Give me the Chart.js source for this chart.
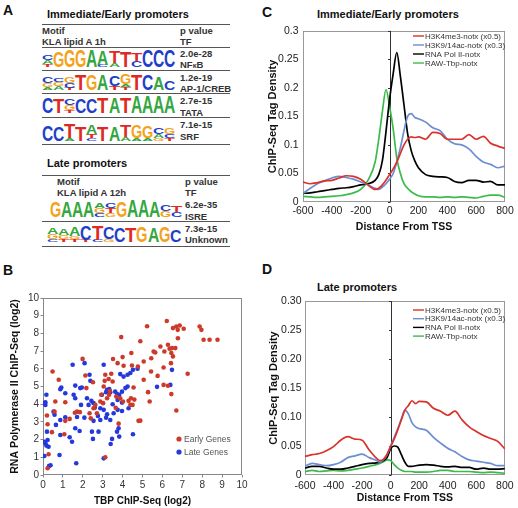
<!DOCTYPE html>
<html><head><meta charset="utf-8">
<script src="https://cdn.jsdelivr.net/npm/chart.js@4.4.1/dist/chart.umd.min.js"></script>
<style>
html,body{margin:0;padding:0;background:#fff;}
body{width:518px;height:508px;position:relative;overflow:hidden;font-family:"Liberation Sans",Arial,sans-serif;color:#222;}
.t{position:absolute;white-space:nowrap;line-height:1;}
.pl{font-weight:bold;font-size:14px;color:#111;}
.pt{font-weight:bold;font-size:11px;color:#111;}
.tb{font-weight:bold;font-size:9.5px;color:#333;}
.hl{position:absolute;height:1px;background:#555;}
canvas{position:absolute;}
.lt{position:absolute;left:0;font-weight:bold;font-size:20px;line-height:20px;transform-origin:0 0;}
</style></head>
<body>
<div class="t pl" style="left:3px;top:3px">A</div>
<div class="t pl" style="left:3px;top:263px">B</div>
<div class="t pl" style="left:262px;top:5px">C</div>
<div class="t pl" style="left:262px;top:262px">D</div>

<div class="t pt" style="left:47px;top:8.5px">Immediate/Early promoters</div>
<div class="hl" style="left:42px;top:24px;width:188px"></div>
<div class="t tb" style="left:42px;top:26px">Motif</div>
<div class="t tb" style="left:42px;top:37px">KLA lipid A 1h</div>
<div class="t tb" style="left:180px;top:26px">p value</div>
<div class="t tb" style="left:180px;top:37px">TF</div>
<div class="hl" style="left:42px;top:47px;width:188px"></div>
<div class="t tb" style="left:180px;top:49px">2.0e-28</div>
<div class="t tb" style="left:180px;top:60px">NF<span style="font-size:7px">κ</span>B</div>
<div class="hl" style="left:42px;top:70px;width:188px"></div>
<div class="t tb" style="left:180px;top:73px">1.2e-19</div>
<div class="t tb" style="left:180px;top:84px">AP-1/CREB</div>
<div class="hl" style="left:42px;top:93px;width:188px"></div>
<div class="t tb" style="left:180px;top:96px">2.7e-15</div>
<div class="t tb" style="left:180px;top:108px">TATA</div>
<div class="hl" style="left:42px;top:117px;width:188px"></div>
<div class="t tb" style="left:180px;top:120px">7.1e-15</div>
<div class="t tb" style="left:180px;top:132px">SRF</div>
<div class="hl" style="left:42px;top:144px;width:188px"></div>

<div class="t pt" style="left:47px;top:157.5px">Late promoters</div>
<div class="hl" style="left:42px;top:175px;width:188px"></div>
<div class="t tb" style="left:57px;top:177px">Motif</div>
<div class="t tb" style="left:57px;top:188px">KLA lipid A 12h</div>
<div class="t tb" style="left:185px;top:177px">p value</div>
<div class="t tb" style="left:185px;top:188px">TF</div>
<div class="t tb" style="left:185px;top:200px">6.2e-35</div>
<div class="t tb" style="left:185px;top:212px">ISRE</div>
<div class="hl" style="left:42px;top:221px;width:188px"></div>
<div class="t tb" style="left:185px;top:224px">7.3e-15</div>
<div class="t tb" style="left:185px;top:235px">Unknown</div>
<div class="hl" style="left:42px;top:246px;width:188px"></div>

<div class="t pt" style="left:317px;top:8.5px">Immediate/Early promoters</div>
<div class="t pt" style="left:317px;top:281.5px">Late promoters</div>

<canvas id="cB" width="250" height="218" style="left:0px;top:290px;width:250px;height:218px"></canvas>
<canvas id="cC" width="258" height="220" style="left:260px;top:20px;width:258px;height:220px"></canvas>
<canvas id="cD" width="258" height="218" style="left:260px;top:290px;width:258px;height:218px"></canvas>

<script>
// ---------- Panel A: motif logos (letter + height per stacked letter) ----------
const motifNFkB    = ["C5A4T3","G16","G17","G17","A17","A14C2","T12A4","T16","T8C6","C17","C17","C17"];
const motifAP1     = ["C6G4A3","C4G4A4","G7C5T2","T16","G16","A16","C11T4","G10A3T3","T16","C16","A13","C9"];
const motifTATA    = ["C16","T14","C7G5T3","C15","C15","T16","A16","T16","A17","A17","A17","A17"];
const motifSRF     = ["C16","C15","T14A3","T15","A9T4C3","T15","A15","T12A4","G13A3","G12A3","C6A4G3","G6C4T3"];
const motifISRE    = ["G16","A16","A16","A16","A5G5C4","C5T5G4","G16","A17","A17","A16","C6G6","T7C5"];
const motifUnknown = ["A7G5C3","A7G4T3","A9G3T3","C14T2","T15C2","C12G3","C14","T15","G16","A15","G16","C12"];

// ---------- Panel B: scatter (log2) ----------
const earlyTbp = [5.23,6.22,6.53,6.7,6.87,7.07,6.77,7.87,7.96,8.07,8.37,8.77,6.78,4.89,3.93,5.9,6.28,6.36,6.48,6.65,5.56,5.64,6.1,6.45,6.53,5.44,5.06,6.43,6.06,5.43,7.27,5.76,5.06,6.06,6.28,6.45,5.28,5.36,6.7,4.89,3.52,4.0,4.44,3.75,4.05,4.47,4.77,1.99,0.48,2.13,0.79,2.51,3.13,3.43,3.3,3.05,2.18,3.1,3.35,3.32,3.22,3.02,2.88,3.68,3.88,4.02,4.3,4.39,4.5,4.42,4.59,4.55,3.5,2.93,2.63,2.54,2.71,2.34,1.71,1.6,1.34,1.12,0.58,0.62,1.12,0.2,0.23,0.45,0.28,4.8,3.13,1.07,0.23,1.85,2.4,3.8,3.65];
const earlyPol = [8.4,8.7,8.3,8.39,8.45,8.26,8.2,8.39,8.2,7.64,7.64,7.64,7.73,7.56,7.79,7.26,7.36,7.13,7.17,7.17,6.98,6.92,6.98,6.89,6.7,6.6,6.41,6.32,6.07,5.85,5.72,5.6,5.38,5.09,5.04,4.57,4.68,4.15,3.64,3.07,6.55,6.66,6.89,6.32,6.17,6.19,6.13,6.56,5.85,5.62,5.38,5.24,5.66,5.72,5.42,5.0,4.91,5.32,4.75,4.53,4.34,4.06,4.15,4.43,4.34,4.15,4.19,3.96,3.96,4.34,4.26,4.94,5.28,4.53,3.96,3.77,3.49,3.49,3.58,3.52,3.17,3.06,3.58,4.15,4.11,3.36,2.87,2.42,1.17,3.06,1.0,2.3,0.38,3.55,3.2,2.9,3.8];
const lateTbp  = [1.49,3.05,2.34,2.38,1.62,1.87,1.95,0.87,1.12,0.17,0.12,1.54,1.62,2.29,2.54,2.43,2.21,1.91,2.96,3.17,3.22,3.33,3.38,2.88,3.05,3.22,2.76,2.54,2.08,1.71,3.63,3.72,3.83,3.97,3.88,4.05,4.25,4.39,4.52,4.75,4.25,4.14,3.97,3.75,4.3,3.97,3.75,3.55,3.38,2.88,3.17,3.8,3.72,3.83,3.47,3.4,4.52,2.79,2.46,2.51,3.05,1.67,1.62,1.84,1.34,1.46,0.87,0.83,0.2,0.23,0.12,0.17,0.28,0.07,0.07,0.3,0.38,0.12,0.07,0.58,0.53,0.87,1.12,0.65,6.48,5.73,6.4,2.09,3.5,2.6,0.92];
const latePol  = [6.23,6.23,5.66,5.32,5.05,4.91,4.94,4.85,4.62,4.53,4.11,4.53,4.34,3.96,4.06,4.19,4.34,3.96,4.53,4.68,4.81,4.85,4.68,3.77,3.68,3.43,3.34,3.06,3.24,3.28,4.71,4.58,4.53,4.71,5.7,5.56,5.66,5.76,5.94,6.0,5.0,4.91,4.09,4.24,3.77,3.62,3.68,3.49,3.11,3.11,3.24,2.64,2.45,2.17,2.04,1.75,2.3,2.45,2.45,2.04,0.94,0.66,2.64,2.49,2.13,1.88,2.26,1.13,2.45,1.98,1.79,1.66,1.6,1.88,1.07,0.5,0.55,3.96,4.06,3.4,3.58,3.11,3.26,2.83,5.94,4.98,5.09,6.32,4.0,3.8,4.94];
const scatterTicks = ["0","1","2","3","4","5","6","7","8","9","10"];

// ---------- Panels C/D: tag density vs distance from TSS ----------
const dist = [-600,-550,-500,-450,-400,-350,-300,-250,-200,-150,-100,-75,-50,-25,0,25,50,75,100,125,150,175,200,250,300,350,400,450,500,550,600,650,700,750,800];
const earlyH3K4me3 = [0.035,0.032,0.034,0.037,0.038,0.042,0.046,0.045,0.04,0.03,0.022,0.024,0.03,0.038,0.048,0.058,0.07,0.085,0.1,0.11,0.114,0.113,0.114,0.11,0.122,0.12,0.11,0.11,0.11,0.118,0.11,0.115,0.103,0.098,0.094];
const earlyH3K9ac  = [0.015,0.024,0.032,0.037,0.042,0.045,0.043,0.04,0.035,0.03,0.024,0.022,0.026,0.032,0.04,0.05,0.07,0.095,0.125,0.15,0.155,0.148,0.146,0.14,0.13,0.125,0.11,0.102,0.1,0.093,0.08,0.07,0.066,0.06,0.063];
const earlyPolII   = [0.015,0.016,0.018,0.02,0.022,0.024,0.025,0.027,0.03,0.032,0.038,0.048,0.072,0.123,0.18,0.225,0.262,0.22,0.17,0.12,0.09,0.072,0.06,0.048,0.045,0.044,0.043,0.036,0.034,0.038,0.038,0.035,0.036,0.03,0.03];
const earlyTbpD    = [0.01,0.009,0.008,0.009,0.01,0.011,0.013,0.016,0.022,0.038,0.07,0.11,0.158,0.197,0.168,0.128,0.077,0.05,0.032,0.024,0.018,0.014,0.011,0.009,0.009,0.008,0.009,0.008,0.009,0.008,0.007,0.01,0.012,0.012,0.008];
const lateH3K4me3  = [0.032,0.035,0.037,0.042,0.049,0.06,0.066,0.062,0.06,0.043,0.029,0.025,0.027,0.036,0.049,0.062,0.078,0.095,0.112,0.12,0.128,0.123,0.127,0.126,0.115,0.11,0.103,0.11,0.095,0.083,0.075,0.068,0.063,0.058,0.045];
const lateH3K9ac   = [0.015,0.02,0.018,0.016,0.018,0.022,0.03,0.033,0.036,0.03,0.025,0.022,0.027,0.035,0.05,0.065,0.08,0.097,0.112,0.105,0.09,0.083,0.08,0.077,0.065,0.055,0.046,0.04,0.032,0.026,0.024,0.022,0.02,0.016,0.016];
const latePolII    = [0.012,0.015,0.015,0.012,0.01,0.01,0.012,0.015,0.018,0.02,0.021,0.022,0.025,0.03,0.045,0.05,0.048,0.035,0.022,0.015,0.015,0.016,0.017,0.018,0.017,0.015,0.014,0.015,0.013,0.013,0.01,0.012,0.01,0.01,0.011];
const lateTbpD     = [0.006,0.008,0.006,0.007,0.008,0.007,0.008,0.01,0.012,0.015,0.018,0.02,0.023,0.026,0.025,0.018,0.012,0.008,0.006,0.006,0.006,0.005,0.005,0.005,0.006,0.008,0.008,0.006,0.006,0.006,0.005,0.004,0.005,0.004,0.003];
const seriesNames = ["H3K4me3-notx (x0.5)","H3K9/14ac-notx (x0.3)","RNA Pol II-notx","RAW-Tbp-notx"];
const distTicks = ["-600","-400","-200","0","200","400","600","800"];
const cYTicks = ["0","0.05","0.1","0.15","0.2","0.25","0.3"];
const dYTicks = ["0","0.05","0.10","0.15","0.20","0.25","0.30"];

// ---------- logos ----------
const LCOL = {A:'#35a640',C:'#1f3fc9',G:'#f4a21c',T:'#de2a22'};
const LADV = {A:0.722,C:0.722,G:0.778,T:0.611};
function parseCol(s){const out=[];const re=/([ACGT])(\d+)/g;let m;while((m=re.exec(s)))out.push([m[1],+m[2]]);return out;}
function drawLogo(cols,left,bottom,w){
  const F=20;
  cols.forEach((s,i)=>{
    const st=parseCol(s);
    let y=bottom;
    for(let k=st.length-1;k>=0;k--){
      const [L,h]=st[k];
      y-=h;
      const sy=h/(0.72*F), sx=w/(LADV[L]*F)*1.02;
      const sp=document.createElement('span');
      sp.className='lt';sp.textContent=L;sp.style.color=LCOL[L];
      sp.style.left=(left+i*w-0.3)+'px';sp.style.top=y+'px';
      sp.style.transform=`translate(0px,${-0.13*F*sy}px) scale(${sx},${sy})`;
      document.body.appendChild(sp);
    }
  });
}
drawLogo(motifNFkB,42.5,67,11.05);
drawLogo(motifAP1,42.5,90,11.05);
drawLogo(motifTATA,42.5,113,11.05);
drawLogo(motifSRF,42.5,141,11.05);
drawLogo(motifISRE,50,217,11);
drawLogo(motifUnknown,47,241.5,11.2);

// ---------- Chart.js ----------
Chart.defaults.font.family='"Liberation Sans", Arial, sans-serif';
Chart.defaults.color='#222';

const framePlugin={id:'frame',beforeDatasetsDraw(chart,a,o){const c=chart.ctx,ca=chart.chartArea;c.save();c.strokeStyle=o.color||'#888';c.lineWidth=1;c.strokeRect(Math.round(ca.left)+0.5,Math.round(ca.top)+0.5,Math.round(ca.right-ca.left)-1,Math.round(ca.bottom-ca.top)-1);
  if(o.zero){const x=Math.round(chart.scales.x.getPixelForValue(0))+0.5;c.strokeStyle='#333';c.beginPath();c.moveTo(x,ca.top);c.lineTo(x,ca.bottom);
    chart.scales.y.ticks.forEach(t=>{const y=Math.round(chart.scales.y.getPixelForValue(t.value))+0.5;c.moveTo(x-2.5,y);c.lineTo(x,y);});
    c.stroke();}
  c.restore();}};
const legendPlugin={id:'inLegend',afterDatasetsDraw(chart,a,o){if(!o||!o.show)return;const c=chart.ctx;c.save();c.font=o.size+'px "Liberation Sans", Arial, sans-serif';c.textBaseline='middle';
  chart.data.datasets.forEach((ds,i)=>{const y=o.y+i*o.dy;
    if(o.dots){c.fillStyle=ds.backgroundColor;c.beginPath();c.arc(o.x1,y,2.6,0,Math.PI*2);c.fill();c.fillStyle=o.color;c.fillText(ds.label,o.x2,y+0.5);}
    else{c.strokeStyle=ds.borderColor;c.lineWidth=1.4;c.beginPath();c.moveTo(o.x1,y);c.lineTo(o.x2,y);c.stroke();c.fillStyle=o.color;c.fillText(ds.label,o.x2+1,y+0.5);}
  });c.restore();}};

function lineDs(label,vals,color){return{label,data:dist.map((x,i)=>({x,y:vals[i]})),borderColor:color,borderWidth:1.7,pointRadius:0,cubicInterpolationMode:'monotone',fill:false};}
const COLORS=['#d8322b','#6c8ed0','#000000','#3dbb4a'];

function densityChart(id,vals,yTicks,lay){
  return new Chart(document.getElementById(id),{
    type:'line',
    data:{datasets:vals.map((v,i)=>lineDs(seriesNames[i],v,COLORS[i]))},
    options:{responsive:false,animation:false,devicePixelRatio:1,events:[],
      layout:{padding:{top:lay.top,right:13,left:0,bottom:0}},
      plugins:{legend:{display:false},tooltip:{enabled:false},frame:{color:'#999',zero:true},
        inLegend:{show:true,x1:153,x2:164,y:lay.legY,dy:lay.legDy,size:8,color:'#333'}},
      scales:{
        x:{type:'linear',min:-600,max:800,afterFit:s=>{s.height=lay.xh;},grid:{display:false,drawTicks:false},border:{display:false},
          ticks:{stepSize:200,padding:lay.xpad,color:'#222',font:{size:10.5,lineHeight:1.2},maxRotation:0,autoSkip:false,callback:(v,i)=>distTicks[i]},
          title:{display:true,text:'Distance From TSS',color:'#111',font:{size:10.5,weight:'bold',lineHeight:1},padding:{top:0,bottom:lay.xtb}}},
        y:{type:'linear',min:0,max:0.3,afterFit:s=>{s.width=lay.yw;},grid:{display:false,drawTicks:false},border:{display:false},
          ticks:{stepSize:0.05,padding:lay.ypad,color:'#222',font:{size:10.5,lineHeight:1.2},autoSkip:false,callback:(v,i)=>yTicks[i]},
          title:{display:true,text:'ChIP-Seq Tag Density',color:'#111',font:{size:11,weight:'bold',lineHeight:1},padding:{top:lay.ytp,bottom:0}}}
      }
    },
    plugins:[framePlugin,legendPlugin]
  });
}
densityChart('cC',[earlyH3K4me3,earlyH3K9ac,earlyPolII,earlyTbpD],cYTicks,{top:6,xh:38,xpad:2.5,xtb:7.75,yw:43,ypad:4.5,ytp:7,legY:16,legDy:9});
densityChart('cD',[lateH3K4me3,lateH3K9ac,latePolII,lateTbpD],dYTicks,{top:11,xh:33,xpad:4.4,xtb:4.75,yw:45,ypad:3.5,ytp:8.3,legY:20,legDy:8.7});

const tickGrid={display:true,drawOnChartArea:false,drawTicks:true,tickLength:2.5,color:'#888'};
new Chart(document.getElementById('cB'),{
  type:'scatter',
  data:{datasets:[
    {label:'Early Genes',data:earlyTbp.map((x,i)=>({x,y:earlyPol[i]})),backgroundColor:'#cc3a2a',borderWidth:0,pointRadius:2.3},
    {label:'Late Genes',data:lateTbp.map((x,i)=>({x,y:latePol[i]})),backgroundColor:'#2438dc',borderWidth:0,pointRadius:2.3}
  ]},
  options:{responsive:false,animation:false,devicePixelRatio:1,events:[],
    layout:{padding:{top:8,right:8,left:0,bottom:0}},
    plugins:{legend:{display:false},tooltip:{enabled:false},frame:{color:'#888',zero:false},
      inLegend:{show:true,dots:true,x1:179,x2:184,y:149,dy:13,size:8.5,color:'#555'}},
    scales:{
      x:{type:'linear',min:0,max:10,afterFit:s=>{s.height=33;},grid:tickGrid,border:{display:false},
        ticks:{stepSize:1,padding:1.5,color:'#333',font:{size:10,lineHeight:1.2},maxRotation:0,autoSkip:false,callback:(v,i)=>scatterTicks[i]},
        title:{display:true,text:'TBP ChIP-Seq (log2)',color:'#111',font:{size:10,weight:'bold',lineHeight:1},padding:{top:0,bottom:2}}},
      y:{type:'linear',min:0,max:10,afterFit:s=>{s.width=43;},grid:tickGrid,border:{display:false},
        ticks:{stepSize:1,padding:1.5,color:'#333',font:{size:10,lineHeight:1.2},autoSkip:false,callback:(v,i)=>scatterTicks[i]},
        title:{display:true,text:'RNA Polymerase II ChIP-Seq (log2)',color:'#111',font:{size:10.5,weight:'bold',lineHeight:1},padding:{top:9.75,bottom:0}}}
    }
  },
  plugins:[framePlugin,legendPlugin]
});
</script>
</body></html>
